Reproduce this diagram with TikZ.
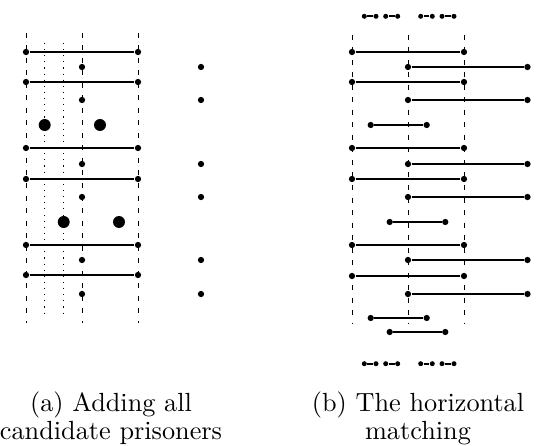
\documentclass[tikz,border=0pt]{standalone}
\usetikzlibrary{positioning}
\tikzset{
  dotnode/.style={circle, fill, inner sep=0pt, minimum size=2.5pt},
  bigdot/.style={circle, fill, inner sep=0pt, minimum size=4.8pt},
  tinydot/.style={circle, fill, inner sep=0pt, minimum size=2pt},
  seg/.style={line width=0.85pt},
  guide/.style={dash pattern=on 2pt off 3pt, line width=0.4pt},
  aux/.style={dotted, line width=0.45pt},
  captext/.style={anchor=base, align=center, inner sep=0pt, font=\fontsize{10.5}{11.5}\selectfont},
}

\begin{document}
\begin{tikzpicture}[x=0.4pt, y=-0.4pt]
  \useasboundingbox (0,0) rectangle (548,446);

  % (a) all candidate prisoners
  \foreach \x in {26,82,138}
    \draw[guide] (\x,33) -- (\x,323);
  \foreach \x in {44.7,63.7}
    \draw[aux] (\x,43) -- (\x,315);
  \foreach \y [count=\i] in {52,82,148,179,245,275} {
    \node[dotnode] (la\i) at (26,\y) {};
    \node[dotnode] (lb\i) at (138,\y) {};
    \draw[seg] (la\i) -- (lb\i);
  }
  \foreach \y [count=\i] in {67,100,164,197,260,294} {
    \node[dotnode] (lm\i) at (82,\y) {};
    \node[dotnode] (lr\i) at (201,\y) {};
  }
  \node[bigdot] (pa1) at (44.7,125) {};
  \node[bigdot] (pb1) at (100,125) {};
  \node[bigdot] (pa2) at (63.7,222) {};
  \node[bigdot] (pb2) at (119,222) {};

  % (b) horizontal matching
  \foreach \x in {352,408,464}
    \draw[guide] (\x,35) -- (\x,323);
  \foreach \y [count=\i] in {52,82,148,179,245,276} {
    \node[dotnode] (ra\i) at (352,\y) {};
    \node[dotnode] (rb\i) at (464,\y) {};
    \draw[seg] (ra\i) -- (rb\i);
  }
  \foreach \y [count=\i] in {67,100,164,197,260,294} {
    \node[dotnode] (rm\i) at (408,\y) {};
    \node[dotnode] (rr\i) at (527.5,\y) {};
    \draw[seg] (rm\i) -- (rr\i);
  }
  \foreach \xa/\xb/\y [count=\i] in {370.7/426.7/125, 389.7/445.3/222, 370.7/426.7/318, 389.7/445.3/332} {
    \node[dotnode] (sa\i) at (\xa,\y) {};
    \node[dotnode] (sb\i) at (\xb,\y) {};
    \draw[seg] (sa\i) -- (sb\i);
  }
  \foreach \y/\n in {16.3/t,363.7/u}
    \foreach \xa/\xb [count=\i] in {364.3/376, 385.7/397.7, 420.7/432.3, 442/454} {
      \node[tinydot] (\n a\i) at (\xa,\y) {};
      \node[tinydot] (\n b\i) at (\xb,\y) {};
      \draw[seg] (\n a\i) -- (\n b\i);
    }

  \node[captext] (capa) at (111,440) {(a) Adding all\\candidate prisoners};
  \node[captext] (capb) at (418,440) {(b) The horizontal\\matching};
\end{tikzpicture}
\end{document}
